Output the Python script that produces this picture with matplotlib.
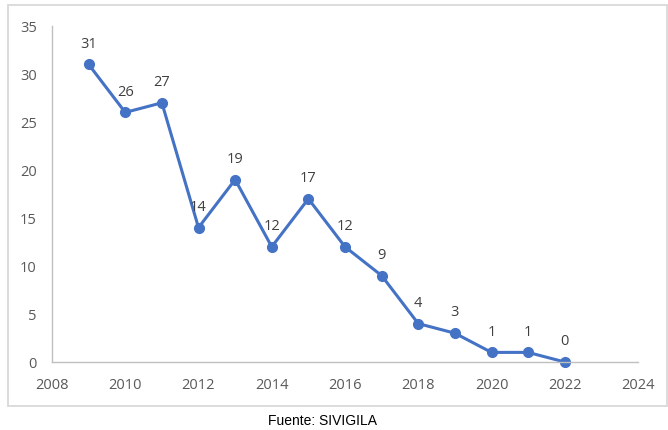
import matplotlib
matplotlib.use("Agg")
import matplotlib.pyplot as plt
from matplotlib.patches import Rectangle

years = [2009, 2010, 2011, 2012, 2013, 2014, 2015, 2016, 2017, 2018, 2019, 2020, 2021, 2022]
cases = [31, 26, 27, 14, 19, 12, 17, 12, 9, 4, 3, 1, 1, 0]
x_ticks = [2008, 2010, 2012, 2014, 2016, 2018, 2020, 2022, 2024]
y_ticks = [0, 5, 10, 15, 20, 25, 30, 35]
caption = "Fuente: SIVIGILA"

W, H = 668, 431
fig = plt.figure(figsize=(W / 100, H / 100), dpi=100)
fig.patch.set_facecolor("white")

# outer chart frame
fig.patches.append(Rectangle((8 / W, 1 - 407 / H), (667 - 8) / W, (407 - 6) / H,
                             transform=fig.transFigure, fill=False,
                             edgecolor="#d9d9d9", linewidth=1.3))

ax = fig.add_axes([52 / W, 1 - 363 / H, (638 - 52) / W, (363 - 27) / H])
ax.plot(years, cases, color="#4472c4", linewidth=2.2, marker="o", markersize=7, clip_on=False)

for x, y in zip(years, cases):
    ax.annotate(str(y), (x, y), xytext=(0, 10), textcoords="offset points",
                ha="center", va="bottom", fontsize=10.5, color="#404040",
                family="Open Sans")

ax.set_xlim(2008, 2024)
ax.set_ylim(0, 35)
ax.set_xticks(x_ticks)
ax.set_yticks(y_ticks)
for s in ["top", "right"]:
    ax.spines[s].set_visible(False)
for s in ["left", "bottom"]:
    ax.spines[s].set_color("#bfbfbf")
    ax.spines[s].set_linewidth(1.0)
ax.tick_params(length=0, labelsize=10.5, labelcolor="#595959")
ax.tick_params(axis="x", pad=11)
ax.tick_params(axis="y", pad=11)
for lab in ax.get_xticklabels() + ax.get_yticklabels():
    lab.set_family("Open Sans")

fig.text(322 / W, 1 - 421 / H, caption, ha="center", va="center",
         fontsize=10, family="Liberation Sans", color="black")

fig.savefig("out.png", dpi=100)
